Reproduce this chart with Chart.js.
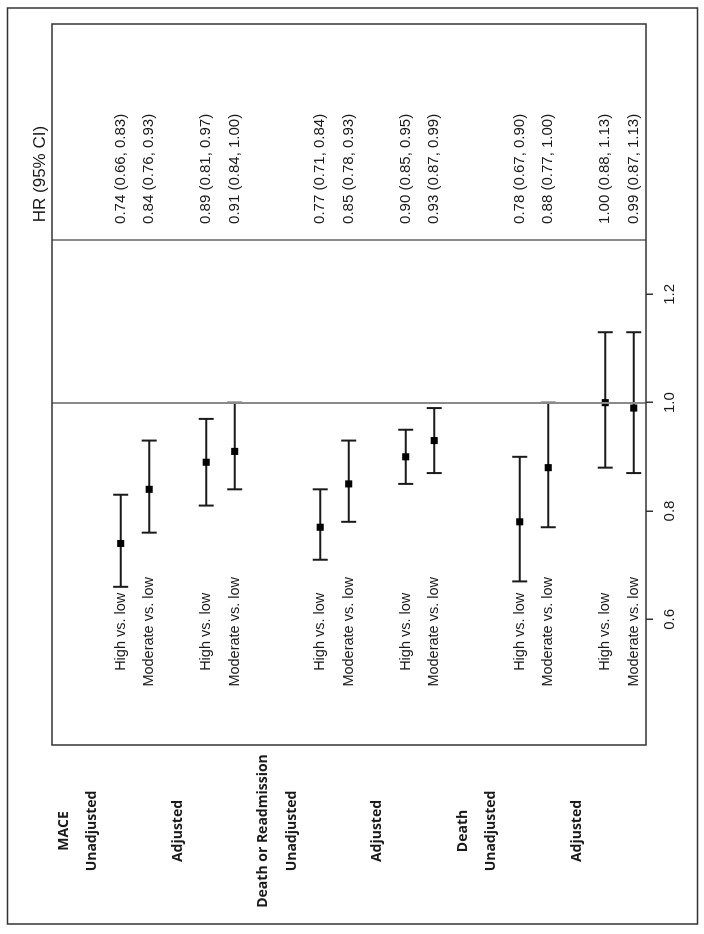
<!DOCTYPE html>
<html>
<head>
<meta charset="utf-8">
<script src="https://cdn.jsdelivr.net/npm/chart.js@4.4.0/dist/chart.umd.min.js"></script>
<style>
  html, body { margin: 0; padding: 0; background: #fff; overflow: hidden; }
  #wrap {
    position: absolute; left: 0; top: 0;
    width: 934px; height: 704px;
    transform-origin: 0 0;
    transform: translate(0, 934px) rotate(-90deg);
  }
</style>
</head>
<body>
<div id="wrap"><canvas id="forest" width="934" height="704"></canvas></div>
<script>
// group / model headings and the rows they sit on
const headerLabels = ['MACE', 'Unadjusted', 'Adjusted', 'Death or Readmission', 'Unadjusted', 'Adjusted', 'Death', 'Unadjusted', 'Adjusted'];
const headerRows = [-2, -1, 2, 5, 6, 9, 12, 13, 16];

// one entry per comparison
const comparisons = ['High vs. low', 'Moderate vs. low', 'High vs. low', 'Moderate vs. low',
                     'High vs. low', 'Moderate vs. low', 'High vs. low', 'Moderate vs. low',
                     'High vs. low', 'Moderate vs. low', 'High vs. low', 'Moderate vs. low'];
const rows  = [0, 1, 3, 4, 7, 8, 10, 11, 14, 15, 17, 18];
const hr    = [0.74, 0.84, 0.89, 0.91, 0.77, 0.85, 0.90, 0.93, 0.78, 0.88, 1.00, 0.99];
const lower = [0.66, 0.76, 0.81, 0.84, 0.71, 0.78, 0.85, 0.87, 0.67, 0.77, 0.88, 0.87];
const upper = [0.83, 0.93, 0.97, 1.00, 0.84, 0.93, 0.95, 0.99, 0.90, 1.00, 1.13, 1.13];
const hrTicks = [0.6, 0.8, 1.0, 1.2];

const ink = '#1a1a1a';
const fmt = v => v.toFixed(2);

// one little dataset per confidence interval, caps drawn as rotated line points
const ciSets = rows.map((r, i) => ({
    type: 'scatter',
    data: [{ x: lower[i], y: r }, { x: upper[i], y: r }],
    showLine: true,
    borderColor: ink,
    borderWidth: 2,
    pointStyle: 'line',
    pointRotation: 90,
    pointRadius: 7.5,
    pointBorderColor: ink,
    pointBorderWidth: 2
}));

const forestText = {
    id: 'forestText',
    beforeDraw(chart) {
        const ctx = chart.ctx;
        ctx.save();
        ctx.fillStyle = '#fff';
        ctx.fillRect(0, 0, chart.width, chart.height);
        ctx.strokeStyle = '#333';
        ctx.lineWidth = 1.5;
        ctx.strokeRect(10, 7.5, chart.width - 18, chart.height - 14);
        ctx.restore();
    },
    afterDatasetsDraw(chart) {
        const ctx = chart.ctx;
        const x = chart.scales.x, y = chart.scales.y;
        const a = chart.chartArea;
        ctx.save();

        // reference line and column separator
        ctx.strokeStyle = '#8a8a8a';
        ctx.lineWidth = 2;
        [1.0, 1.3].forEach(v => {
            const px = Math.round(x.getPixelForValue(v));
            ctx.beginPath();
            ctx.moveTo(px, a.top);
            ctx.lineTo(px, a.bottom);
            ctx.stroke();
        });

        // plot box
        ctx.strokeStyle = '#333';
        ctx.lineWidth = 1.5;
        ctx.strokeRect(a.left, a.top, a.right - a.left, a.bottom - a.top);

        ctx.fillStyle = ink;
        ctx.textBaseline = 'middle';

        // comparison labels and HR text
        ctx.font = '14.5px "Liberation Sans", Arial, sans-serif';
        rows.forEach((r, i) => {
            const py = y.getPixelForValue(r);
            ctx.textAlign = 'center';
            ctx.fillText(comparisons[i], x.getPixelForValue(0.577), py);
            ctx.textAlign = 'left';
            ctx.font = '15px "Liberation Sans", Arial, sans-serif';
            ctx.fillText(fmt(hr[i]) + ' (' + fmt(lower[i]) + ', ' + fmt(upper[i]) + ')', x.getPixelForValue(1.33), py);
            ctx.font = '14.5px "Liberation Sans", Arial, sans-serif';
        });

        ctx.font = '17px "Liberation Sans", Arial, sans-serif';
        ctx.textAlign = 'left';
        ctx.fillText('HR (95% CI)', x.getPixelForValue(1.333), a.top - 12);

        // group headings, left of the box
        ctx.font = 'bold 14px "Open Sans", "DejaVu Sans", sans-serif';
        ctx.textAlign = 'center';
        headerRows.forEach((r, i) => {
            ctx.fillText(headerLabels[i], a.left - 86, y.getPixelForValue(r));
        });
        ctx.restore();
    }
};

new Chart(document.getElementById('forest'), {
    type: 'scatter',
    data: {
        datasets: [
            {
                data: rows.map((r, i) => ({ x: hr[i], y: r })),
                pointStyle: 'rect',
                pointRadius: 5,
                pointBackgroundColor: '#000',
                pointBorderWidth: 0
            },
            ...ciSets
        ]
    },
    options: {
        responsive: false,
        animation: false,
        layout: { padding: { left: 189, right: 24, top: 52, bottom: 18 } },
        plugins: { legend: { display: false }, tooltip: { enabled: false } },
        scales: {
            x: {
                type: 'linear',
                min: 0.368,
                max: 1.699,
                afterBuildTicks: s => { s.ticks = hrTicks.map(v => ({ value: v })); },
                afterFit: s => { s.height = 40; },
                grid: { drawOnChartArea: false, drawTicks: true, tickLength: 7, color: '#333', lineWidth: 1.5 },
                border: { display: false },
                ticks: {
                    padding: 8,
                    color: ink,
                    font: { family: '"Liberation Sans", Arial, sans-serif', size: 15 },
                    callback: v => Number(v).toFixed(1)
                }
            },
            y: {
                type: 'linear',
                reverse: true,
                min: -2.41,
                max: 18.43,
                display: false
            }
        }
    },
    plugins: [forestText]
});
</script>
</body>
</html>
